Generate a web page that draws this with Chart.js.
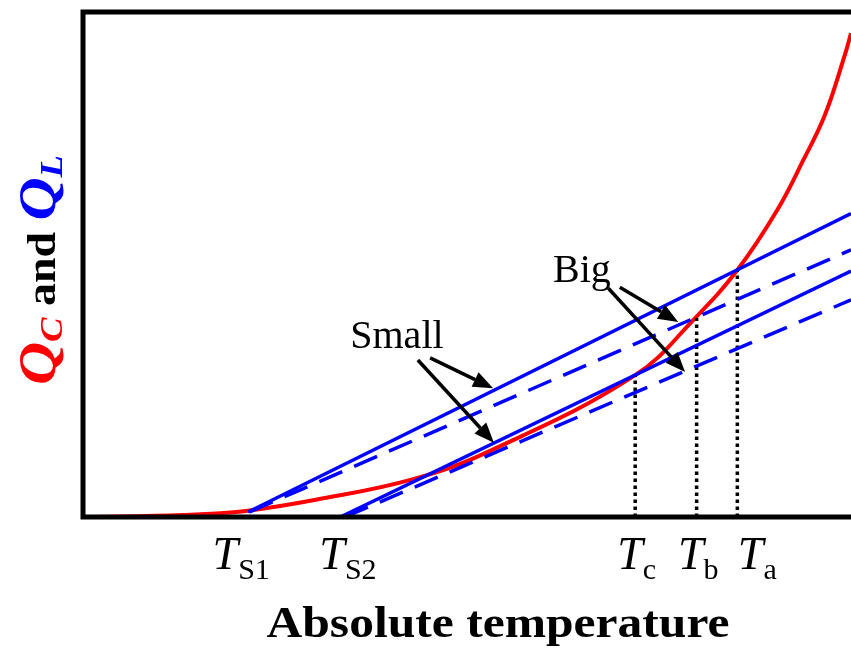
<!DOCTYPE html>
<html>
<head>
<meta charset="utf-8">
<script src="https://cdn.jsdelivr.net/npm/chart.js@4.4.1/dist/chart.umd.min.js"></script>
<style>
  html, body { margin: 0; padding: 0; background: #fff; overflow: hidden; }
</style>
</head>
<body>
<canvas id="chart" width="851" height="648"></canvas>
<script>
// Q_C (red curve), arbitrary units 0..100
const qcX = [0, 13.0, 21.2, 30.3, 43.0, 53.0, 71.9, 79.7, 85.2, 90.4, 93.8, 96.6, 99.2, 100];
const qcY = [0, 0.4, 1.2, 3.4, 7.5, 13.1, 28.1, 39.4, 48.9, 60.8, 70.7, 79.6, 91.5, 95.8];

// Q_L straight lines (solid = "Small", dashed = "Big")
const smallUpperX = [21.5, 100], smallUpperY = [1.0, 60.1];
const bigUpperX   = [21.7, 100], bigUpperY   = [1.0, 52.9];
const smallLowerX = [33.5, 100], smallLowerY = [0, 48.7];
const bigLowerX   = [34.1, 100], bigLowerY   = [0, 43.0];

// intersection markers T_c, T_b, T_a
const markX = [71.9, 79.9, 85.2];
const markY = [28.1, 39.4, 48.9];

// x tick labels
const tickX   = [20.6, 34.5, 72.1, 80.1, 87.8];
const tickSub = ['S1', 'S2', 'c', 'b', 'a'];

// annotations
const noteText = ['Small', 'Big'];
const noteX = [34.8, 61.2];
const noteY = [33.5, 46.5];
const arrowFromX = [45.2, 43.6, 69.9, 68.4];
const arrowFromY = [31.5, 31.1, 45.5, 45.3];
const arrowToX   = [53.4, 53.5, 77.5, 78.4];
const arrowToY   = [25.5, 14.7, 38.6, 28.7];

const SERIF = '"Liberation Serif", "Times New Roman", serif';
const pts = (xs, ys) => xs.map((x, i) => ({ x, y: ys[i] }));

const datasets = [
    { data: pts(smallUpperX, smallUpperY), borderColor: '#0000ff', borderWidth: 3.5 },
    { data: pts(bigUpperX, bigUpperY), borderColor: '#0000ff', borderWidth: 3.5, borderDash: [25, 13] },
    { data: pts(smallLowerX, smallLowerY), borderColor: '#0000ff', borderWidth: 3.5 },
    { data: pts(bigLowerX, bigLowerY), borderColor: '#0000ff', borderWidth: 3.5, borderDash: [25, 13] }
];
markX.forEach((x, i) => datasets.push({
    data: [{ x, y: 0 }, { x, y: markY[i] }], borderColor: '#000', borderWidth: 3.5, borderDash: [3.5, 3.5]
}));
datasets.push({ data: pts(qcX, qcY), borderColor: '#ff0000', borderWidth: 4, tension: 0.4 });

function drawArrow(ctx, x1, y1, x2, y2) {
    const a = Math.atan2(y2 - y1, x2 - x1), len = 20, hw = 8;
    const bx = x2 - len * Math.cos(a), by = y2 - len * Math.sin(a);
    ctx.beginPath(); ctx.moveTo(x1, y1); ctx.lineTo(bx, by); ctx.stroke();
    ctx.beginPath();
    ctx.moveTo(x2, y2);
    ctx.lineTo(bx + hw * Math.sin(a), by - hw * Math.cos(a));
    ctx.lineTo(bx - hw * Math.sin(a), by + hw * Math.cos(a));
    ctx.closePath(); ctx.fill();
}

// draws a run of [text, font, color, dy] pieces starting at x
function drawRun(ctx, parts, x, y) {
    parts.forEach(p => {
        ctx.font = p[1]; ctx.fillStyle = p[2];
        ctx.fillText(p[0], x, y + (p[3] || 0));
        x += ctx.measureText(p[0]).width;
    });
}
function runWidth(ctx, parts) {
    return parts.reduce((w, p) => { ctx.font = p[1]; return w + ctx.measureText(p[0]).width; }, 0);
}

const decor = {
    id: 'decor',
    afterDraw(chart) {
        const { ctx, chartArea: ca, scales: { x, y } } = chart;
        ctx.save();
        // frame
        ctx.strokeStyle = '#000'; ctx.lineWidth = 5;
        ctx.strokeRect(ca.left, ca.top, ca.right - ca.left + 10, ca.bottom - ca.top);

        // arrows
        ctx.lineWidth = 3.5; ctx.fillStyle = '#000'; ctx.lineCap = 'butt';
        arrowFromX.forEach((fx, i) => drawArrow(ctx,
            x.getPixelForValue(fx), y.getPixelForValue(arrowFromY[i]),
            x.getPixelForValue(arrowToX[i]), y.getPixelForValue(arrowToY[i])));

        // notes
        ctx.textBaseline = 'alphabetic'; ctx.textAlign = 'left';
        ctx.font = `40px ${SERIF}`; ctx.fillStyle = '#000';
        noteText.forEach((t, i) => ctx.fillText(t, x.getPixelForValue(noteX[i]), y.getPixelForValue(noteY[i])));

        // tick labels
        tickX.forEach((v, i) => {
            const parts = [['T', `italic 46px ${SERIF}`, '#000'], [tickSub[i], `30px ${SERIF}`, '#000', 10]];
            const w = runWidth(ctx, parts);
            drawRun(ctx, parts, x.getPixelForValue(v) - w / 2, ca.bottom + 52);
        });

        // x title, stretched a little to the width seen in the picture
        ctx.font = `bold 44px ${SERIF}`; ctx.fillStyle = '#000'; ctx.textAlign = 'center';
        const xt = 'Absolute temperature';
        const sx = 463 / ctx.measureText(xt).width;
        ctx.save();
        ctx.translate(498, 637); ctx.scale(sx, 1);
        ctx.fillText(xt, 0, 0);
        ctx.restore();
        ctx.textAlign = 'left';

        // y title, rotated
        const yParts = [
            ['Q', `bold italic 52px ${SERIF}`, '#ff0000'],
            ['C', `bold italic 32px ${SERIF}`, '#ff0000', 7],
            [' and ', `bold 40px ${SERIF}`, '#000'],
            ['Q', `bold italic 52px ${SERIF}`, '#0000ff'],
            ['L', `bold italic 32px ${SERIF}`, '#0000ff', 7]
        ];
        const yw = runWidth(ctx, yParts);
        ctx.translate(55, 270);
        ctx.rotate(-Math.PI / 2);
        ctx.scale(230 / yw, 1);
        drawRun(ctx, yParts, -yw / 2, 0);
        ctx.restore();
    }
};

new Chart(document.getElementById('chart'), {
    type: 'line',
    data: { datasets },
    options: {
        responsive: false,
        animation: false,
        layout: { padding: { left: 83, top: 12, right: 0, bottom: 131 } },
        elements: { point: { radius: 0 }, line: { tension: 0, fill: false, borderCapStyle: 'butt' } },
        plugins: { legend: { display: false }, tooltip: { enabled: false } },
        scales: {
            x: { type: 'linear', min: 0, max: 100, display: false },
            y: { type: 'linear', min: 0, max: 100, display: false }
        }
    },
    plugins: [decor]
});
</script>
</body>
</html>
